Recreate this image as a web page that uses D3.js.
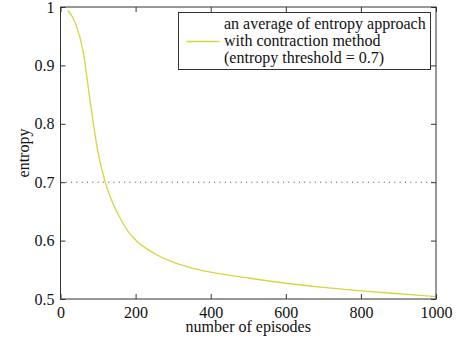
<!DOCTYPE html>
<html>
<head>
<meta charset="utf-8">
<script src="https://cdn.jsdelivr.net/npm/d3@7"></script>
<style>
  body { margin: 0; background: #fff; }
  svg, svg text { font-family: "Liberation Serif", "DejaVu Serif", serif; }
</style>
</head>
<body>
<svg id="chart"></svg>
<script>
const episodes = [20, 40, 60, 80, 100, 120, 140, 160, 180, 200, 250, 300, 350, 400, 500, 600, 700, 800, 900, 1000];
const entropy = [0.994, 0.972, 0.925, 0.834, 0.751, 0.698, 0.663, 0.637, 0.616, 0.601, 0.578, 0.563, 0.553, 0.546, 0.536, 0.527, 0.520, 0.514, 0.509, 0.504];
const threshold = 0.7;
const xTicks = [0, 200, 400, 600, 800, 1000];
const yTicks = [0.5, 0.6, 0.7, 0.8, 0.9, 1];
const legendLines = ["an average of entropy approach", "with contraction method", "(entropy threshold = 0.7)"];

const size = { width: 457, height: 340 };
const margin = { top: 7, right: 21, bottom: 41, left: 60.5 };
const lineColor = "#d6d640";
const serif = '"Liberation Serif", "DejaVu Serif", serif';
const fontSize = 16;

const svg = d3.select("#chart").attr("width", size.width).attr("height", size.height);

const x = d3.scaleLinear().domain([0, 1000]).range([margin.left, size.width - margin.right]);
const y = d3.scaleLinear().domain([0.5, 1]).range([size.height - margin.bottom, margin.top]);

const data = episodes.map((e, i) => ({ e, v: entropy[i] }));

// threshold dotted line
svg.append("line")
  .attr("x1", x(0)).attr("x2", x(1000))
  .attr("y1", y(threshold)).attr("y2", y(threshold))
  .attr("stroke", "#444")
  .attr("stroke-width", 1)
  .attr("stroke-dasharray", "1,4.3");

// curve
const line = d3.line()
  .x((d) => x(d.e))
  .y((d) => y(d.v))
  .curve(d3.curveMonotoneX);

svg.append("path")
  .datum(data)
  .attr("d", line)
  .attr("fill", "none")
  .attr("stroke", lineColor)
  .attr("stroke-width", 1.3);

// axes with inward ticks on all sides
const tickLen = 5;
const axisStyle = (g) => {
  g.attr("font-family", serif).attr("font-size", fontSize);
  g.select(".domain").remove();
  g.selectAll("line").attr("stroke", "#333");
  g.selectAll("text").attr("fill", "#111");
};

svg.append("g")
  .attr("transform", `translate(0, ${y(0.5)})`)
  .call(d3.axisBottom(x).tickValues(xTicks).tickFormat(d3.format("d")).tickSizeInner(-tickLen).tickSizeOuter(0).tickPadding(8))
  .call(axisStyle);

svg.append("g")
  .attr("transform", `translate(0, ${y(1)})`)
  .call(d3.axisTop(x).tickValues(xTicks).tickFormat("").tickSizeInner(-tickLen).tickSizeOuter(0))
  .call(axisStyle);

svg.append("g")
  .attr("transform", `translate(${x(0)}, 0)`)
  .call(d3.axisLeft(y).tickValues(yTicks).tickFormat((d) => (d === 1 ? "1" : d3.format(".1f")(d))).tickSizeInner(-tickLen).tickSizeOuter(0).tickPadding(6))
  .call(axisStyle);

svg.append("g")
  .attr("transform", `translate(${x(1000)}, 0)`)
  .call(d3.axisRight(y).tickValues(yTicks).tickFormat("").tickSizeInner(-tickLen).tickSizeOuter(0))
  .call(axisStyle);

// frame
svg.append("rect")
  .attr("x", x(0)).attr("y", y(1))
  .attr("width", x(1000) - x(0)).attr("height", y(0.5) - y(1))
  .attr("fill", "none")
  .attr("stroke", "#333")
  .attr("stroke-width", 1);

// axis labels
svg.append("text")
  .attr("x", (x(0) + x(1000)) / 2)
  .attr("y", 332)
  .attr("text-anchor", "middle")
  .style("font-size", fontSize + "px")
  .attr("fill", "#111")
  .text("number of episodes");

svg.append("text")
  .attr("transform", `translate(29, ${(y(0.5) + y(1)) / 2}) rotate(-90)`)
  .attr("text-anchor", "middle")
  .style("font-size", fontSize + "px")
  .attr("fill", "#111")
  .text("entropy");

// legend
const legend = svg.append("g").attr("transform", "translate(178.5, 12.5)");
legend.append("rect")
  .attr("width", 252).attr("height", 57)
  .attr("fill", "#fff")
  .attr("stroke", "#333")
  .attr("stroke-width", 1);
legend.append("line")
  .attr("x1", 8).attr("x2", 41)
  .attr("y1", 29).attr("y2", 29)
  .attr("stroke", lineColor)
  .attr("stroke-width", 1.3);
legend.selectAll("text.leg")
  .data(legendLines)
  .enter()
  .append("text")
  .attr("class", "leg")
  .attr("x", 45.5)
  .attr("y", (d, i) => 16.5 + i * 17)
  .style("font-size", fontSize + "px")
  .attr("fill", "#111")
  .text((d) => d);
</script>
</body>
</html>
